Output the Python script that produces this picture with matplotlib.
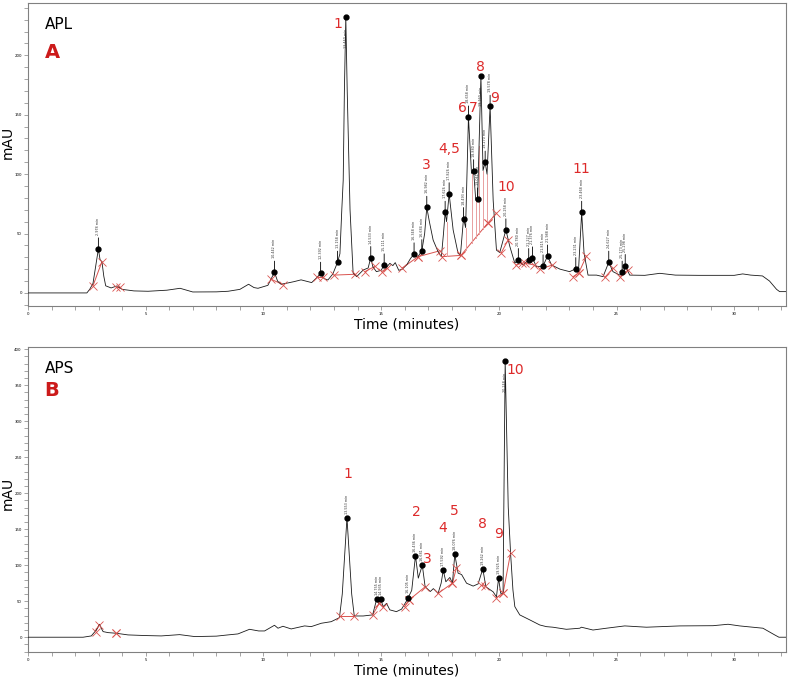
import numpy as np
import matplotlib
matplotlib.use("Agg")
import matplotlib.pyplot as plt
from matplotlib.ticker import MultipleLocator

# ---- panel A (APL) chromatogram: time (min), mAU ----
apl_t = [0.0, 2.50, 2.62, 2.76, 2.90, 2.99, 3.06, 3.14, 3.22, 3.30, 3.53, 3.78, 4.0, 4.5,
         5.1, 5.9, 6.46, 7.0, 8.0, 8.5, 9.0, 9.37, 9.6, 9.77, 10.19, 10.47, 10.60, 10.75,
         11.04, 11.3, 11.6, 12.05, 12.25, 12.43, 12.58, 12.74, 12.95, 13.15, 13.25, 13.33,
         13.39, 13.44, 13.50, 13.56, 13.68, 13.81, 13.96, 14.24, 14.45, 14.56, 14.65, 14.8,
         15.0, 15.13, 15.25, 15.37, 15.5, 15.6, 15.75, 15.90, 16.1, 16.25, 16.40, 16.55,
         16.73, 16.85, 16.94, 17.05, 17.21, 17.42, 17.56, 17.65, 17.72, 17.78, 17.89, 18.06,
         18.27, 18.37, 18.50, 18.59, 18.71, 18.84, 18.93, 19.02, 19.10, 19.24, 19.33, 19.42,
         19.50, 19.63, 19.76, 19.90, 20.04, 20.30, 20.47, 20.68, 20.83, 21.03, 21.27, 21.35,
         21.43, 21.60, 21.88, 22.07, 22.24, 22.6, 23.01, 23.27, 23.38, 23.52, 23.62, 23.79,
         24.15, 24.43, 24.67, 24.85, 25.14, 25.24, 25.30, 25.37, 25.56, 26.2, 26.84, 27.5,
         28.5, 29.5, 30.0, 30.36, 30.7, 31.2, 31.5, 31.8, 31.93, 32.3]
apl_y = [0, 0, 3, 8, 26, 37, 28, 26.3, 14, 6, 4.2, 5.9, 3, 1.7,
         1.4, 2.3, 3.9, 0.8, 0.9, 1.4, 3, 7.3, 4.5, 3.9, 6.4, 17.4, 10, 7.3,
         8.4, 9.5, 11, 8.7, 12.5, 16.5, 12, 10.9, 16, 25.8, 33, 70,
         95, 170, 232, 170, 70, 16.8, 13.7, 19.3, 21, 29.7, 22, 17.9,
         19, 23.5, 22, 24.9, 23, 25.5, 19, 20, 24, 29, 32.8, 30,
         35.5, 50, 72, 60, 44.5, 34.7, 30.5, 50, 67.8, 60, 83.4, 53,
         33.3, 31.9, 62.5, 55, 148, 100.6, 102.8, 78, 79, 182.6, 103, 110,
         100, 157, 78, 36, 34, 53, 39, 25, 28, 23.5, 28, 26,
         29.4, 22, 22.7, 31, 23.5, 20, 17.9, 20.4, 17, 67.8, 33.6, 15,
         15, 13.7, 25.8, 17.9, 15, 17.4, 16, 23, 15, 14.8, 16.5, 15,
         14.8, 14.8, 14.8, 16, 15, 14.3, 10, 3, 1.1, 1.1]

apl_peak_t = [2.99, 10.47, 12.43, 13.15, 13.50, 14.56, 15.13, 16.40, 16.73, 16.94, 17.72,
              17.89, 18.50, 18.71, 18.93, 19.10, 19.24, 19.42, 19.63, 20.30, 20.83, 21.27,
              21.43, 21.88, 22.07, 23.27, 23.52, 24.67, 25.24, 25.37]
apl_peak_lab = ["2.978", "10.442", "12.392", "13.158", "13.440", "14.533", "15.111", "16.348",
                "16.684", "16.982", "17.626", "17.826", "18.493", "18.658", "18.880", "19.041",
                "19.160", "19.270", "19.578", "20.258", "20.780", "21.227", "21.376", "21.815",
                "21.988", "23.231", "23.468", "24.627", "25.173", "25.298"]
apl_below = ["13.440", "19.160"]

# integration baselines (t0, y0, t1, y1)
apl_base = [(2.76, 6, 3.14, 26.3), (3.72, 4.8, 3.90, 4.8), (10.33, 11.5, 10.83, 7),
            (12.26, 13.7, 12.54, 13.7), (13.0, 15, 13.88, 15.7), (14.31, 17.9, 14.73, 22.3),
            (15.02, 17.9, 15.25, 21), (15.90, 21, 16.57, 30.5), (16.57, 30.5, 17.5, 35.5),
            (17.59, 30.5, 18.39, 31.6), (18.39, 31.6, 19.52, 58.5), (19.52, 58.5, 19.9, 67),
            (20.11, 34, 20.4, 44.8), (20.72, 23.5, 21.0, 25), (21.12, 25, 21.5, 23.5),
            (21.74, 20, 22.28, 23.5), (23.16, 13.7, 23.4, 17), (23.4, 17, 23.72, 31),
            (24.5, 13, 24.85, 20.7), (25.14, 13.7, 25.49, 19.3)]
apl_drop_t = [17.78, 18.59, 18.84, 19.02, 19.16, 19.33, 19.50]

apl_num = ["1", "3", "4,5", "6", "7", "8", "9", "10", "11"]
apl_num_t = [13.18, 16.93, 17.89, 18.46, 18.90, 19.21, 19.82, 20.30, 23.51]
apl_num_y = [226, 108, 121, 155.6, 155.6, 190.4, 164.4, 88.8, 104.7]

# ---- panel B (APS) ----
aps_t = [0, 2.34, 2.69, 2.90, 3.04, 3.12, 3.19, 3.40, 3.75, 4.25, 5.0, 5.66, 6.44, 7.08,
         8.0, 8.49, 8.92, 9.41, 9.8, 10.05, 10.47, 10.62, 10.83, 11.18, 11.75, 12.03, 12.46,
         12.88, 13.23, 13.35, 13.55, 13.75, 13.86, 14.24, 14.64, 14.81, 14.89, 14.98, 15.09,
         15.23, 15.37, 15.65, 15.87, 16.11, 16.15, 16.30, 16.46, 16.58, 16.75, 16.87, 17.09,
         17.22, 17.42, 17.55, 17.64, 17.75, 17.92, 18.03, 18.13, 18.27, 18.42, 18.63, 18.91,
         19.12, 19.32, 19.45, 19.76, 19.90, 19.99, 20.08, 20.18, 20.27, 20.40, 20.50, 20.60,
         20.68, 20.89, 21.32, 21.74, 22.02, 22.3, 22.87, 23.44, 23.51, 24.0, 24.57, 25.35,
         26.27, 27.69, 29.1, 29.74, 30.23, 31.22, 31.72, 31.9, 32.3]
aps_y = [0, 0, 1.8, 10, 18, 12, 7.8, 6.4, 5.5, 3.2, 2.3, 1.8, 3.6, 0.9,
         1.5, 3.2, 4.6, 11, 8.7, 8.7, 16.6, 12.5, 15.2, 11.5, 15.7, 14.7, 19.4,
         21.6, 27.2, 60, 166, 60, 29.5, 29.5, 31, 52.7, 47, 52.7, 42.5,
         47, 38, 35.5, 39, 52, 55, 65, 113, 82, 100, 70, 63.5,
         67.5, 61, 75, 93, 77, 83, 75, 115, 89, 87, 75, 71,
         74, 95, 70, 63, 56, 82, 61, 61, 383, 181, 116.5, 65.6,
         42.5, 31, 24, 17, 14.7, 13.9, 11, 12.5, 13.9, 10, 12.5, 15.7,
         13.9, 15.7, 16, 18, 15.7, 12.5, 3.2, 0, 0]

aps_peak_t = [13.55, 14.81, 14.98, 16.15, 16.46, 16.75, 17.64, 18.13, 19.32, 19.99, 20.27]
aps_peak_lab = ["13.553", "14.755", "14.935", "16.105", "16.436", "16.681", "17.592",
                "18.076", "19.262", "19.925", "20.248"]
aps_below = ["20.248"]

aps_base = [(2.87, 7.8, 3.02, 17), (3.75, 6.4, 3.75, 6.4), (13.25, 29, 13.86, 29),
            (14.64, 31, 14.92, 47), (14.92, 47, 15.09, 42), (16.0, 42.5, 16.2, 52),
            (16.2, 52, 16.87, 70), (17.42, 61, 18.03, 75), (18.03, 75, 18.2, 96.5),
            (19.26, 72, 19.4, 71), (19.9, 55, 20.18, 61), (20.18, 61, 20.5, 117)]
aps_drop_t = []

aps_num = ["1", "2", "3", "4", "5", "8", "9", "10"]
aps_num_t = [13.60, 16.48, 16.97, 17.63, 18.12, 19.31, 20.0, 20.68]
aps_num_y = [226.5, 173.4, 108, 151, 175, 156.7, 143, 370.7]

RED = "#dd2a2a"
XRED = "#d9534f"
GRAY = "#808080"


def draw_panel(ax, t, y, pk_t, pk_lab, below, base, drop_t, num, num_t, num_y,
               ylim, name, letter, letter_y, stem, ylab_y):
    t = np.asarray(t, float)
    y = np.asarray(y, float)
    ax.plot(t, y, color="#1a1a1a", lw=0.6, zorder=3)

    # red integration baselines with x markers at the ends
    for t0, y0, t1, y1 in base:
        ax.plot([t0, t1], [y0, y1], color=XRED, lw=0.7, zorder=2)
        ax.plot([t0, t1], [y0, y1], ls="", marker="x", ms=6, mew=0.6, color=XRED, zorder=4)
    if drop_t:
        bt = np.array([b[0] for b in base] + [b[2] for b in base])
        by = np.array([b[1] for b in base] + [b[3] for b in base])
        o = np.argsort(bt)
        for d in drop_t:
            ax.plot([d, d], [np.interp(d, bt[o], by[o]), np.interp(d, t, y)],
                    color="#e8a0a0", lw=0.7, zorder=2)

    # apex dots with retention time labels
    for pt, lab in zip(pk_t, pk_lab):
        py = np.interp(pt, t, y)
        ax.plot(pt, py, "o", ms=3.5, color="black", zorder=5)
        if lab in below:
            ax.annotate(lab + " min", xy=(pt, py), xytext=(0, -8), textcoords="offset points",
                        rotation=90, ha="center", va="top", fontsize=2.4, color="#333333")
        else:
            ax.annotate(lab + " min", xy=(pt, py), xytext=(0, stem), textcoords="offset points",
                        rotation=90, ha="center", va="bottom", fontsize=2.4, color="#333333",
                        arrowprops=dict(arrowstyle="-", lw=0.6, color="black",
                                        shrinkA=0, shrinkB=0))

    for s, nt, ny in zip(num, num_t, num_y):
        ax.text(nt, ny, s, color=RED, fontsize=10, ha="center", va="center", zorder=6)

    ax.text(0.022, 0.93, name, transform=ax.transAxes, fontsize=11, ha="left", va="center")
    ax.text(0.022, letter_y, letter, transform=ax.transAxes,
            fontsize=14, fontweight="bold", color="#cc1a1a", ha="left", va="center")

    ax.set_xlim(0, 32.2)
    ax.set_ylim(*ylim)
    ax.xaxis.set_major_locator(MultipleLocator(5))
    ax.xaxis.set_minor_locator(MultipleLocator(1))
    ax.yaxis.set_major_locator(MultipleLocator(50))
    ax.yaxis.set_minor_locator(MultipleLocator(10))
    ax.tick_params(which="both", direction="out", length=3, width=0.5, color=GRAY,
                   labelsize=2.8, pad=1.5)
    for sp in ax.spines.values():
        sp.set_color(GRAY)
        sp.set_linewidth(0.8)
    ax.set_xlabel("Time (minutes)", fontsize=10, labelpad=1)
    ax.set_ylabel("mAU", fontsize=10, va="center")
    ax.yaxis.set_label_coords(-0.027, ylab_y)


fig = plt.figure(figsize=(7.89, 6.8), dpi=100)
axA = fig.add_axes([0.0355, 0.55, 0.9607, 0.4456])
axB = fig.add_axes([0.0355, 0.0412, 0.9607, 0.4485])

draw_panel(axA, apl_t, apl_y, apl_peak_t, apl_peak_lab, apl_below, apl_base, apl_drop_t,
           apl_num, apl_num_t, apl_num_y, (-11, 244), "APL", "A", 0.836, 10, 0.54)
draw_panel(axB, aps_t, aps_y, aps_peak_t, aps_peak_lab, aps_below, aps_base, aps_drop_t,
           aps_num, aps_num_t, aps_num_y, (-20.5, 403), "APS", "B", 0.858, 3, 0.52)

fig.savefig("out.png", dpi=100)
plt.close(fig)
